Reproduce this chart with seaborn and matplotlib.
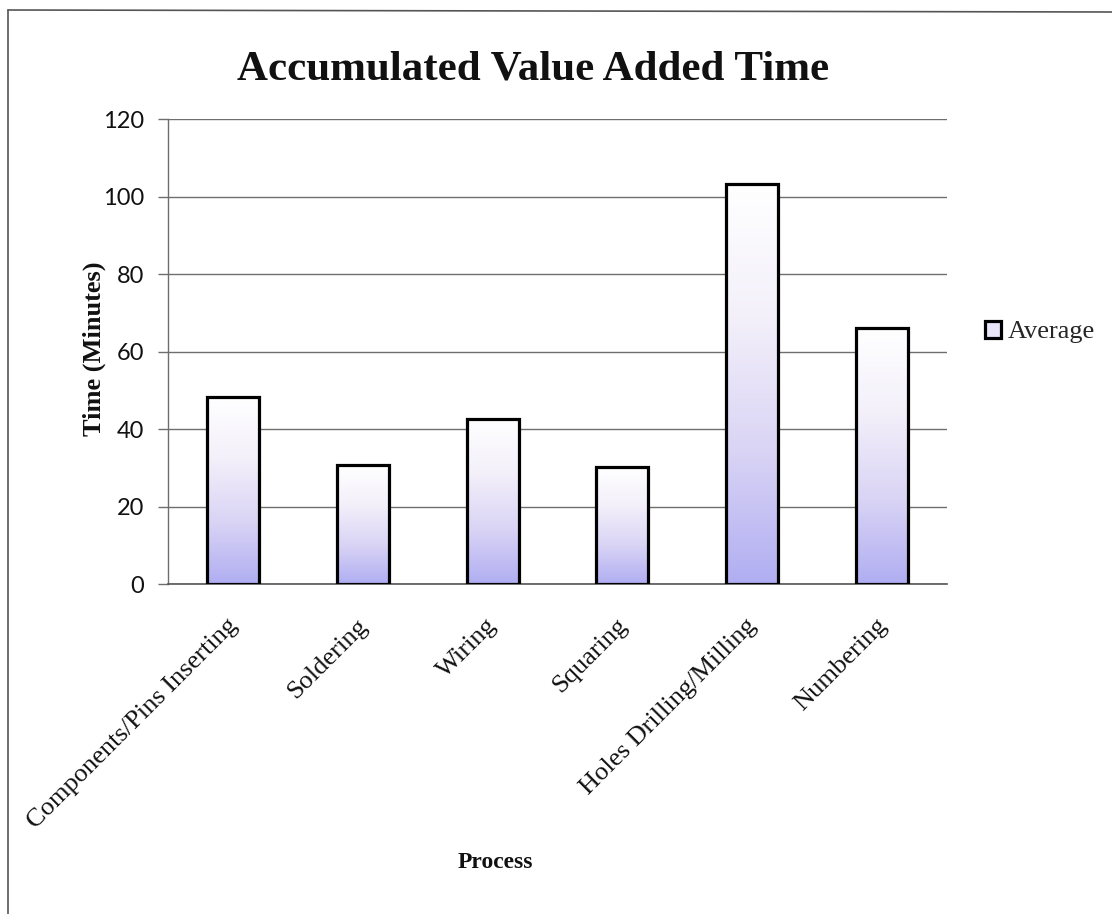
import numpy as np
import matplotlib
matplotlib.use("Agg")
import matplotlib.pyplot as plt
from matplotlib.colors import LinearSegmentedColormap
from matplotlib.patches import Patch
from matplotlib.lines import Line2D
import matplotlib.transforms as mtransforms
import seaborn as sns

processes = ["Components/Pins Inserting", "Soldering", "Wiring", "Squaring",
             "Holes Drilling/Milling", "Numbering"]
average_minutes = [48.4, 30.7, 42.6, 30.2, 103.3, 66.1]
y_ticks = [0, 20, 40, 60, 80, 100, 120]

sns.set_theme(style="white")
plt.rcParams["font.family"] = ["Liberation Serif", "DejaVu Serif"]

W, H = 1112, 914
fig = plt.figure(figsize=(W / 100, H / 100), dpi=100)
fig.patch.set_facecolor("white")

# plot area in pixel terms
left, right, top, bottom = 168, 947, 119.3, 584.3
ax = fig.add_axes([left / W, 1 - bottom / H, (right - left) / W, (bottom - top) / H])

sns.barplot(x=processes, y=average_minutes, color="white", edgecolor="black",
            linewidth=2.3, width=0.4, ax=ax, zorder=3)

# vertical white-to-lavender fill inside each bar
grad_cmap = LinearSegmentedColormap.from_list(
    "lav", ["#FFFFFF", "#F3F0FA", "#DAD4F5", "#B0AEF2"])
grad = np.linspace(0, 1, 256).reshape(-1, 1)
for p in list(ax.patches):
    x0, y0 = p.get_x(), p.get_y()
    w, h = p.get_width(), p.get_height()
    p.set_facecolor("none")
    im = ax.imshow(grad, cmap=grad_cmap, aspect="auto",
                   extent=[x0, x0 + w, y0, y0 + h], origin="upper",
                   zorder=2.5, interpolation="bilinear")
    im.set_clip_path(p)

ax.set_xlim(-0.5, len(processes) - 0.5)
ax.set_ylim(0, 120)
ax.set_yticks(y_ticks)

# gridlines and spines
ax.yaxis.grid(True, color="#6E6E6E", linewidth=1.0, zorder=1)
ax.xaxis.grid(False)
ax.set_axisbelow(True)
for s in ["top", "right"]:
    ax.spines[s].set_visible(False)
ax.spines["left"].set_color("#6E6E6E")
ax.spines["left"].set_linewidth(1.0)
ax.spines["bottom"].set_color("#555555")
ax.spines["bottom"].set_linewidth(1.2)
ax.set_facecolor("white")

ax.tick_params(axis="y", which="major", left=True, length=7.2, width=1.0,
               color="#6E6E6E", pad=10, labelsize=17)
ax.tick_params(axis="x", bottom=False, length=0)
for lab in ax.get_yticklabels():
    lab.set_fontfamily(["Lato", "DejaVu Sans"])
    lab.set_color("#111111")

# rotated category labels
offset = mtransforms.ScaledTranslation(1 / 100, -33 / 100, fig.dpi_scale_trans)
ax.set_xticks(range(len(processes)))
ax.set_xticklabels(processes, rotation=45, ha="right", va="center",
                   rotation_mode="anchor", fontsize=19, color="#111111")
for lab in ax.get_xticklabels():
    lab.set_transform(lab.get_transform() + offset)

ax.set_xlabel("")
ax.set_ylabel("")

fig.text(533 / W, 1 - 70 / H, "Accumulated Value Added Time", ha="center",
         va="center", fontsize=31, fontweight="bold", color="#111111")
fig.text(94 / W, 1 - 349 / H, "Time (Minutes)", ha="center", va="center",
         rotation=90, fontsize=19, fontweight="bold", color="#111111")
fig.text(495 / W, 1 - 863 / H, "Process", ha="center", va="center",
         fontsize=17, fontweight="bold", color="#111111")

handle = Patch(facecolor="#E8E6F8", edgecolor="black", linewidth=2.3)
fig.legend([handle], ["Average"], loc="center left",
           bbox_to_anchor=(985 / W, 1 - 332 / H), frameon=False,
           fontsize=19, handlelength=0.62, handleheight=0.62,
           handletextpad=0.25, borderaxespad=0, borderpad=0)

# outer chart frame (left and top edges)
fig.add_artist(Line2D([8 / W, 8 / W], [0, 1 - 10 / H], transform=fig.transFigure,
                      color="#555555", linewidth=1.2))
fig.add_artist(Line2D([8 / W, 1.0], [1 - 10 / H, 1 - 12 / H],
                      transform=fig.transFigure, color="#555555", linewidth=1.2))

fig.savefig("out.png", dpi=100, facecolor="white")
